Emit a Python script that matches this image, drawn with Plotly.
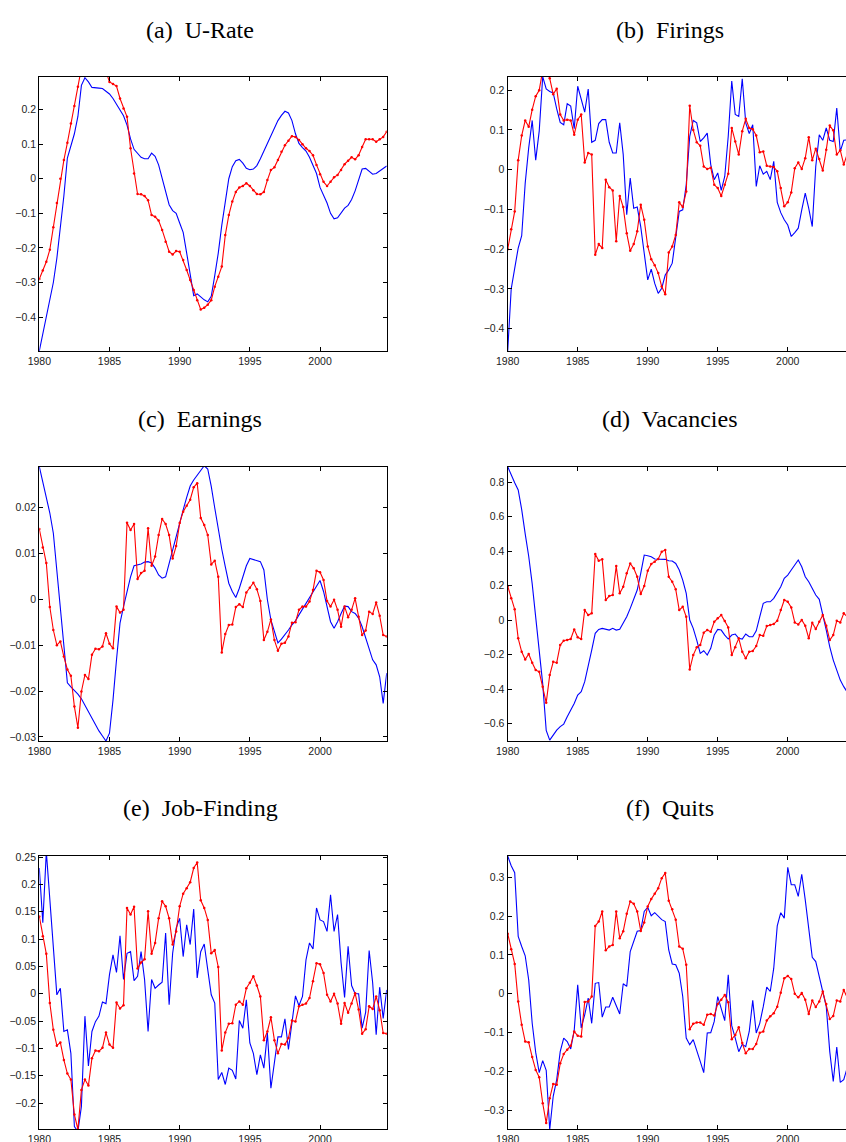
import plotly.graph_objects as go

# Quarterly time index, 1980Q1 .. 2004Q4
quarters = [1980 + k / 4 for k in range(100)]

year_ticks = [1980, 1985, 1990, 1995, 2000]
year_labels = ["1980", "1985", "1990", "1995", "2000"]

# ---------------- (a) U-Rate ----------------
urate_red = [
    -0.29, -0.265, -0.24, -0.205, -0.14, -0.07, 0.0, 0.054, 0.104, 0.16,
    0.21, 0.266, 0.32, 0.36, 0.38, 0.4, 0.39, 0.37, 0.34, 0.31,
    0.28, 0.274, 0.268, 0.232, 0.203, 0.179, 0.088, 0.015, -0.044, -0.045,
    -0.05, -0.062, -0.105, -0.11, -0.121, -0.148, -0.182, -0.211, -0.219, -0.209,
    -0.211, -0.235, -0.264, -0.293, -0.322, -0.351, -0.378, -0.373, -0.364, -0.351,
    -0.312, -0.283, -0.254, -0.163, -0.105, -0.066, -0.038, -0.025, -0.021, -0.013,
    -0.021, -0.033, -0.044, -0.045, -0.038, -0.004, 0.025, 0.033, 0.054, 0.078,
    0.097, 0.11, 0.123, 0.121, 0.112, 0.1, 0.088, 0.08, 0.068, 0.04,
    0.013, -0.009, -0.021, -0.009, 0.004, 0.011, 0.025, 0.042, 0.052, 0.062,
    0.056, 0.068, 0.092, 0.114, 0.114, 0.114, 0.107, 0.114, 0.121, 0.136,
]
urate_blue = [
    -0.498, -0.45, -0.40, -0.35, -0.30, -0.23, -0.14, -0.05, 0.06, 0.095,
    0.13, 0.18, 0.27, 0.292, 0.28, 0.264, 0.262, 0.262, 0.261, 0.254,
    0.245, 0.232, 0.215, 0.2, 0.182, 0.155, 0.115, 0.085, 0.075, 0.062,
    0.058, 0.058, 0.074, 0.065, 0.04, 0.0, -0.035, -0.075, -0.092, -0.1,
    -0.128, -0.155, -0.215, -0.28, -0.338, -0.333, -0.343, -0.35, -0.356, -0.34,
    -0.28, -0.215, -0.135, -0.07, 0.0, 0.035, 0.052, 0.056, 0.045, 0.03,
    0.026, 0.028, 0.038, 0.058, 0.08, 0.1, 0.12, 0.145, 0.168, 0.183,
    0.195, 0.19, 0.168, 0.13, 0.102, 0.09, 0.08, 0.062, 0.04, 0.015,
    -0.025, -0.048, -0.07, -0.1, -0.116, -0.113, -0.1, -0.085, -0.077, -0.06,
    -0.035, 0.0, 0.028, 0.03, 0.022, 0.013, 0.015, 0.022, 0.03, 0.037,
]
urate_ticks = [-0.4, -0.3, -0.2, -0.1, 0, 0.1, 0.2]
urate_labels = ["\u22120.4", "\u22120.3", "\u22120.2", "\u22120.1", "0", "0.1", "0.2"]

# ---------------- (b) Firings ----------------
firings_red = [
    -0.2, -0.15, -0.105, 0.024, 0.086, 0.124, 0.108, 0.151, 0.185, 0.2,
    0.25, 0.26, 0.23, 0.19, 0.204, 0.139, 0.124, 0.126, 0.124, 0.088,
    0.126, 0.139, 0.018, 0.042, 0.038, -0.214, -0.187, -0.197, -0.025, -0.044,
    -0.052, -0.18, -0.066, -0.094, -0.16, -0.204, -0.187, -0.155, -0.088, -0.126,
    -0.193, -0.225, -0.24, -0.26, -0.294, -0.313, -0.208, -0.193, -0.164, -0.082,
    -0.094, -0.055, 0.161, 0.1, 0.069, 0.06, 0.008, 0.002, 0.005, -0.038,
    -0.046, -0.066, -0.038, -0.01, 0.105, 0.071, 0.038, 0.097, 0.128, 0.105,
    0.102, 0.086, 0.044, 0.046, 0.01, 0.008, 0.007, -0.004, -0.046, -0.092,
    -0.082, -0.057, 0.004, 0.018, 0.002, 0.029, 0.082, 0.024, 0.053, 0.027,
    -0.002, 0.05, 0.111, 0.099, 0.038, 0.049, 0.013, 0.04, 0.03, 0.05,
]
firings_blue = [
    -0.456, -0.3, -0.248, -0.197, -0.166, -0.034, 0.055, 0.124, 0.024, 0.097,
    0.234, 0.203, 0.197, 0.193, 0.153, 0.119, 0.113, 0.166, 0.16, 0.103,
    0.21, 0.178, 0.145, 0.203, 0.069, 0.074, 0.116, 0.126, 0.126, 0.069,
    0.042, 0.042, 0.118, 0.038, -0.113, -0.021, -0.097, -0.094, -0.143, -0.21,
    -0.277, -0.25, -0.286, -0.311, -0.298, -0.265, -0.252, -0.235, -0.168, -0.105,
    -0.101, -0.038, 0.084, 0.124, 0.118, 0.071, 0.08, 0.092, 0.013, -0.025,
    -0.008, -0.052, -0.017, 0.084, 0.223, 0.139, 0.134, 0.229, 0.118, 0.091,
    0.113, -0.042, 0.01, -0.011, -0.004, -0.025, 0.021, -0.082, -0.108, -0.126,
    -0.139, -0.168, -0.158, -0.147, -0.101, -0.059, -0.097, -0.143, 0.008, 0.088,
    0.074, 0.105, 0.074, 0.071, 0.155, 0.046, 0.074, 0.075, 0.06, 0.07,
]
firings_ticks = [-0.4, -0.3, -0.2, -0.1, 0, 0.1, 0.2]
firings_labels = ["\u22120.4", "\u22120.3", "\u22120.2", "\u22120.1", "0", "0.1", "0.2"]

# ---------------- (c) Earnings ----------------
earnings_red = [
    0.0153, 0.0113, 0.0079, -0.0017, -0.0067, -0.01, -0.0092, -0.0125, -0.0153, -0.0167,
    -0.0234, -0.028, -0.0201, -0.0165, -0.0174, -0.0121, -0.0108, -0.0109, -0.0103, -0.0074,
    -0.0097, -0.0107, -0.0016, -0.0029, -0.0023, 0.0167, 0.0151, 0.0164, 0.0044, 0.0057,
    0.0062, 0.0155, 0.0073, 0.0093, 0.014, 0.0175, 0.0164, 0.014, 0.0089, 0.0116,
    0.0166, 0.0191, 0.0204, 0.0217, 0.0244, 0.0253, 0.0177, 0.0162, 0.014, 0.0076,
    0.0084, 0.0049, -0.0116, -0.0076, -0.0056, -0.0055, -0.0017, -0.0011, -0.0017, 0.0015,
    0.0025, 0.0036, 0.0022, -0.0004, -0.0089, -0.0071, -0.0044, -0.0089, -0.0112, -0.0097,
    -0.0095, -0.0081, -0.0051, -0.005, -0.0023, -0.0016, -0.0016, -0.0005, 0.002, 0.0062,
    0.0059, 0.0042, -0.0004, -0.0016, -0.0001, -0.0023, -0.006, -0.0016, -0.0039, -0.0023,
    0.0002, -0.0038, -0.0078, -0.0068, -0.0027, -0.0032, -0.0007, -0.0036, -0.0078, -0.0081,
]
earnings_blue = [
    0.0289, 0.0253, 0.0224, 0.0188, 0.0144, 0.0064, -0.0023, -0.0111, -0.0182, -0.0191,
    -0.0198, -0.0207, -0.0217, -0.0231, -0.0245, -0.026, -0.0275, -0.0287, -0.0298, -0.0309,
    -0.0292, -0.022, -0.0132, -0.0052, -0.0016, 0.0017, 0.0049, 0.0073, 0.0075, 0.0077,
    0.0081, 0.0082, 0.0079, 0.0068, 0.0053, 0.0046, 0.0049, 0.0079, 0.0111, 0.014,
    0.0169, 0.0195, 0.0222, 0.0247, 0.026, 0.0271, 0.0282, 0.0291, 0.0284, 0.0246,
    0.0199, 0.0151, 0.0109, 0.0071, 0.0035, 0.0017, 0.0004, 0.0024, 0.0049, 0.0073,
    0.0089, 0.0087, 0.0084, 0.0082, 0.0064, -0.0001, -0.0045, -0.0071, -0.0095, -0.0087,
    -0.0078, -0.0067, -0.0056, -0.0047, -0.0034, -0.0022, -0.0009, 0.0004, 0.0017, 0.0029,
    0.0041, 0.0017, -0.002, -0.0049, -0.0063, -0.0049, -0.0031, -0.0015, -0.0016, -0.0027,
    -0.0031, -0.0041, -0.006, -0.0085, -0.0111, -0.0132, -0.0143, -0.0169, -0.0227, -0.0161,
]
earnings_ticks = [-0.03, -0.02, -0.01, 0, 0.01, 0.02]
earnings_labels = ["\u22120.03", "\u22120.02", "\u22120.01", "0", "0.01", "0.02"]

# ---------------- (d) Vacancies ----------------
vacancies_red = [
    0.197, 0.126, 0.062, -0.106, -0.184, -0.228, -0.197, -0.247, -0.29, -0.3,
    -0.386, -0.479, -0.319, -0.242, -0.247, -0.145, -0.12, -0.116, -0.11, -0.054,
    -0.1, -0.11, 0.058, 0.029, 0.039, 0.383, 0.344, 0.352, 0.116, 0.139,
    0.145, 0.313, 0.155, 0.193, 0.271, 0.328, 0.3, 0.251, 0.151, 0.197,
    0.286, 0.325, 0.338, 0.354, 0.396, 0.406, 0.251, 0.222, 0.178, 0.058,
    0.077, 0.019, -0.286, -0.203, -0.158, -0.145, -0.073, -0.058, -0.068, -0.01,
    0.01, 0.029, -0.006, -0.043, -0.203, -0.158, -0.106, -0.184, -0.222, -0.184,
    -0.18, -0.151, -0.087, -0.091, -0.035, -0.029, -0.023, -0.004, 0.058, 0.116,
    0.106, 0.073, -0.014, -0.025, 0.0, -0.033, -0.106, -0.015, -0.052, -0.01,
    0.029, -0.033, -0.116, -0.087, -0.004, -0.014, 0.039, 0.02, 0.01, 0.03,
]
vacancies_blue = [
    0.889, 0.84, 0.796, 0.754, 0.64, 0.5, 0.37, 0.21, 0.02, -0.17,
    -0.37, -0.64, -0.696, -0.667, -0.638, -0.618, -0.603, -0.56, -0.522, -0.483,
    -0.435, -0.415, -0.357, -0.271, -0.174, -0.077, -0.054, -0.048, -0.054, -0.058,
    -0.048, -0.058, -0.054, -0.019, 0.019, 0.068, 0.116, 0.174, 0.271, 0.377,
    0.373, 0.367, 0.354, 0.354, 0.352, 0.352, 0.344, 0.342, 0.328, 0.29,
    0.232, 0.155, 0.0, -0.048, -0.116, -0.193, -0.178, -0.203, -0.164, -0.087,
    -0.054, -0.058, -0.087, -0.11, -0.087, -0.081, -0.106, -0.11, -0.081, -0.097,
    -0.097, -0.062, 0.019, 0.097, 0.106, 0.106, 0.126, 0.158, 0.193, 0.242,
    0.261, 0.29, 0.323, 0.348, 0.309, 0.251, 0.222, 0.184, 0.145, 0.12,
    0.039, -0.058, -0.155, -0.232, -0.29, -0.348, -0.386, -0.42, -0.45, -0.48,
]
vacancies_ticks = [-0.6, -0.4, -0.2, 0, 0.2, 0.4, 0.6, 0.8]
vacancies_labels = ["\u22120.6", "\u22120.4", "\u22120.2", "0", "0.2", "0.4", "0.6", "0.8"]

# ---------------- (e) Job-Finding ----------------
jobfinding_red = [
    0.1415, 0.105, 0.073, -0.017, -0.066, -0.095, -0.089, -0.121, -0.146, -0.157,
    -0.221, -0.248, -0.176, -0.157, -0.168, -0.118, -0.104, -0.105, -0.099, -0.071,
    -0.093, -0.099, -0.016, -0.027, -0.021, 0.157, 0.145, 0.159, 0.046, 0.057,
    0.063, 0.151, 0.073, 0.093, 0.138, 0.169, 0.16, 0.138, 0.09, 0.114,
    0.16, 0.183, 0.193, 0.204, 0.23, 0.24, 0.171, 0.157, 0.135, 0.074,
    0.08, 0.049, -0.104, -0.071, -0.055, -0.054, -0.02, -0.014, -0.02, 0.01,
    0.02, 0.032, 0.015, -0.005, -0.085, -0.069, -0.043, -0.085, -0.109, -0.092,
    -0.093, -0.081, -0.049, -0.051, -0.023, -0.02, -0.018, -0.008, 0.023, 0.056,
    0.054, 0.038, -0.002, -0.014, 0.0, -0.018, -0.055, -0.017, -0.035, -0.018,
    0.001, -0.029, -0.073, -0.065, -0.023, -0.028, -0.005, -0.03, -0.072, -0.073,
]
jobfinding_blue = [
    0.23, 0.13, 0.26, 0.178, 0.087, -0.002, 0.01, -0.069, -0.066, -0.109,
    -0.243, -0.252, -0.206, -0.041, -0.132, -0.069, -0.051, -0.041, -0.015, -0.018,
    0.035, 0.071, 0.039, 0.106, 0.026, 0.074, 0.077, 0.024, 0.032, 0.077,
    0.026, -0.069, 0.026, 0.01, 0.016, 0.021, 0.111, -0.02, 0.074, 0.12,
    0.138, 0.068, 0.126, 0.09, 0.155, 0.029, 0.077, 0.091, 0.044, -0.002,
    -0.017, -0.157, -0.144, -0.166, -0.136, -0.14, -0.156, -0.049, -0.063, -0.011,
    -0.09, -0.109, -0.148, -0.112, -0.136, -0.072, -0.173, -0.121, -0.079, -0.079,
    -0.046, -0.102, -0.048, -0.004, -0.022, -0.005, 0.062, 0.093, 0.082, 0.157,
    0.135, 0.132, 0.114, 0.181, 0.114, 0.145, 0.057, -0.007, 0.087, 0.015,
    0.0, 0.0, -0.063, -0.034, 0.079, 0.02, -0.075, 0.012, -0.045, 0.007,
]
jobfinding_ticks = [-0.2, -0.15, -0.1, -0.05, 0, 0.05, 0.1, 0.15, 0.2, 0.25]
jobfinding_labels = ["\u22120.2", "\u22120.15", "\u22120.1", "\u22120.05", "0",
                     "0.05", "0.1", "0.15", "0.2", "0.25"]

# ---------------- (f) Quits ----------------
quits_red = [
    0.155, 0.115, 0.077, -0.02, -0.08, -0.123, -0.125, -0.163, -0.196, -0.215,
    -0.282, -0.333, -0.269, -0.232, -0.234, -0.179, -0.155, -0.144, -0.134, -0.097,
    -0.108, -0.11, -0.021, -0.02, -0.007, 0.175, 0.186, 0.212, 0.112, 0.122,
    0.126, 0.212, 0.143, 0.161, 0.206, 0.238, 0.232, 0.212, 0.162, 0.184,
    0.225, 0.244, 0.258, 0.272, 0.298, 0.311, 0.24, 0.218, 0.191, 0.122,
    0.116, 0.075, -0.091, -0.077, -0.074, -0.074, -0.08, -0.054, -0.052, -0.056,
    -0.026, -0.015, -0.003, -0.022, -0.117, -0.106, -0.086, -0.127, -0.153, -0.142,
    -0.142, -0.129, -0.1, -0.097, -0.069, -0.058, -0.05, -0.033, 0.003, 0.04,
    0.046, 0.038, 0.0, -0.009, 0.002, -0.015, -0.052, -0.017, -0.034, -0.02,
    0.006, -0.026, -0.065, -0.057, -0.017, -0.02, 0.01, -0.01, -0.03, -0.04,
]
quits_blue = [
    0.355, 0.33, 0.312, 0.148, 0.122, 0.098, 0.036, -0.076, -0.151, -0.203,
    -0.172, -0.197, -0.35, -0.264, -0.221, -0.149, -0.114, -0.123, -0.142, -0.094,
    0.023, -0.088, -0.054, -0.011, -0.076, 0.027, 0.029, -0.06, -0.034, -0.034,
    -0.009, -0.033, -0.052, 0.026, 0.019, 0.109, 0.135, 0.161, 0.163, 0.212,
    0.223, 0.201, 0.209, 0.199, 0.191, 0.186, 0.113, 0.077, 0.075, 0.053,
    -0.007, -0.114, -0.131, -0.118, -0.144, -0.174, -0.203, -0.101, -0.1, -0.071,
    -0.007, -0.037, -0.069, 0.049, -0.082, -0.114, -0.149, -0.13, -0.136, -0.097,
    -0.017, -0.101, -0.076, -0.033, 0.017, 0.006, 0.066, 0.175, 0.209, 0.195,
    0.326, 0.281, 0.281, 0.251, 0.308, 0.242, 0.175, 0.094, 0.083, 0.046,
    0.002, -0.033, -0.149, -0.226, -0.137, -0.228, -0.221, -0.19, -0.2, -0.21,
]
quits_ticks = [-0.3, -0.2, -0.1, 0, 0.1, 0.2, 0.3]
quits_labels = ["\u22120.3", "\u22120.2", "\u22120.1", "0", "0.1", "0.2", "0.3"]

# Panel captions
captions = ["(a)\u00a0 U-Rate", "(b)\u00a0 Firings", "(c)\u00a0 Earnings",
            "(d)\u00a0 Vacancies", "(e)\u00a0 Job-Finding", "(f)\u00a0 Quits"]

# ---------------- layout ----------------
W, H = 846, 1142
left_dom = [39.3 / W, 386.7 / W]
right_dom = [507.7 / W, 1.0]
row_px = [(76.7, 351.0), (466.7, 741.0), (856.0, 1129.3)]
row_dom = [[1 - b / H, 1 - t / H] for t, b in row_px]
caption_y = [30, 419, 808]
caption_x = [200, 670]

panels = [
    (urate_red, urate_blue, [-0.498, 0.295], urate_ticks, urate_labels),
    (firings_red, firings_blue, [-0.456, 0.234], firings_ticks, firings_labels),
    (earnings_red, earnings_blue, [-0.0309, 0.0289], earnings_ticks, earnings_labels),
    (vacancies_red, vacancies_blue, [-0.701, 0.889], vacancies_ticks, vacancies_labels),
    (jobfinding_red, jobfinding_blue, [-0.248, 0.252], jobfinding_ticks, jobfinding_labels),
    (quits_red, quits_blue, [-0.349, 0.355], quits_ticks, quits_labels),
]

tick_font = dict(family="Liberation Sans, Arial, sans-serif", size=10.5, color="#222222")

fig = go.Figure()
layout = dict(
    width=W, height=H,
    margin=dict(l=0, r=0, t=0, b=0, autoexpand=False),
    paper_bgcolor="white", plot_bgcolor="white",
    showlegend=False,
    annotations=[],
)

for i, (red, blue, yr, yt, yl) in enumerate(panels):
    n = i + 1
    row, col = divmod(i, 2)
    xname = "x" if n == 1 else f"x{n}"
    yname = "y" if n == 1 else f"y{n}"
    fig.add_trace(go.Scatter(
        x=quarters, y=blue, xaxis=xname, yaxis=yname, mode="lines",
        line=dict(color="#0000ff", width=1.1), hoverinfo="skip",
    ))
    fig.add_trace(go.Scatter(
        x=quarters, y=red, xaxis=xname, yaxis=yname, mode="lines+markers",
        line=dict(color="#ff0000", width=1.1),
        marker=dict(color="#ff0000", size=2.5, symbol="circle"), hoverinfo="skip",
    ))
    xr = [1980, 2004.75] if col == 0 else [1980, 2004.16]
    axis_common = dict(
        showgrid=False, zeroline=False, showline=True, linecolor="black",
        linewidth=1.3, ticks="inside", ticklen=4, tickwidth=1, tickcolor="black",
        tickfont=tick_font, automargin=False,
    )
    layout["xaxis" if n == 1 else f"xaxis{n}"] = dict(
        axis_common, domain=left_dom if col == 0 else right_dom, anchor=yname,
        range=xr, tickmode="array", tickvals=year_ticks, ticktext=year_labels,
        mirror="allticks",
    )
    layout["yaxis" if n == 1 else f"yaxis{n}"] = dict(
        axis_common, domain=row_dom[row], anchor=xname, range=yr,
        tickmode="array", tickvals=yt, ticktext=yl,
        mirror="allticks" if col == 0 else False,
    )
    layout["annotations"].append(dict(
        text=captions[i], xref="paper", yref="paper",
        x=caption_x[col] / W, y=1 - caption_y[row] / H,
        xanchor="center", yanchor="middle", showarrow=False,
        font=dict(family="Liberation Serif, Times New Roman, serif", size=24, color="black"),
    ))

fig.update_layout(**layout)
fig.write_html("out.html")
